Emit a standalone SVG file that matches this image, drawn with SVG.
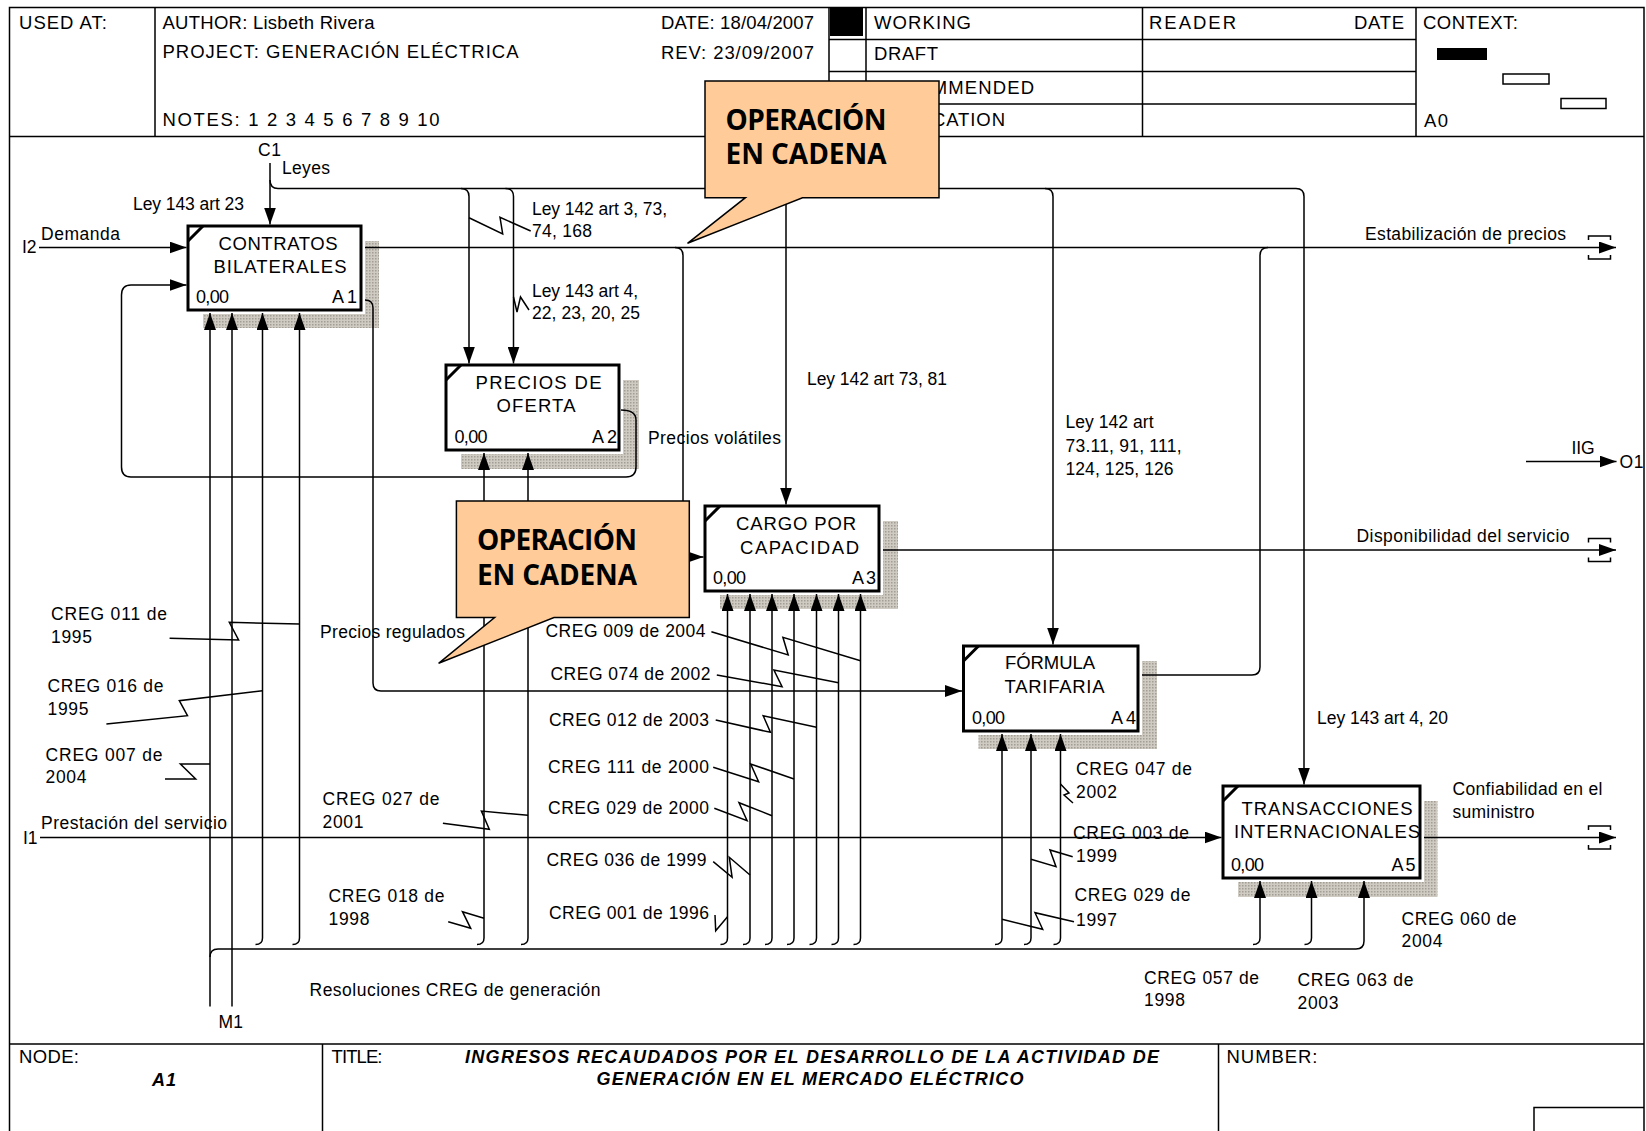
<svg xmlns="http://www.w3.org/2000/svg" width="1646" height="1131" viewBox="0 0 1646 1131">
<defs>
<style>
text{font-family:"Liberation Sans",Arial,sans-serif;fill:#000;dominant-baseline:central}
.h{font-size:18.5px}
.l{font-size:17.5px}
.bx{font-size:18.5px;text-anchor:middle}
.bn{font-size:18px}
.e{text-anchor:end}
.ft{font-size:18px;font-weight:bold;font-style:italic}
.co{font-family:"Open Sans","Noto Sans",sans-serif;font-size:28px;font-weight:bold;dominant-baseline:alphabetic}
.fr{fill:none;stroke:#000;stroke-width:1.5}
.c{fill:none;stroke:#000;stroke-width:1.5}
.a{marker-end:url(#ah)}
.box{fill:#fff;stroke:#000;stroke-width:3}
.mg{fill:#fff}
.dg{stroke:#000;stroke-width:3}
.sh{fill:url(#dots)}
.callout{fill:#FFCC99;stroke:#000;stroke-width:1.5}
</style>
<pattern id="dots" width="3" height="3" patternUnits="userSpaceOnUse"><rect width="3" height="3" fill="#cfcbc3"/><rect width="1.5" height="1.5" fill="#a29e96"/></pattern>
<marker id="ah" viewBox="0 0 17 12" refX="17" refY="6" markerWidth="17" markerHeight="12" markerUnits="userSpaceOnUse" orient="auto"><path d="M0,0L17,6L0,12z" fill="#000"/></marker>
</defs>
<rect width="1646" height="1131" fill="#fff"/>

<g id="frame">
<path class="fr" d="M9.5,1131V7.5H1644V1131"/>
<path class="fr" d="M9.5,136.5H1644M155,7.5V136.5M829,7.5V136.5M866,7.5V136.5M1142.5,7.5V136.5M1416,7.5V136.5M829,39.5H1416M829,71.5H1416M829,104H1416"/>
<path class="fr" d="M9.5,1044H1644M322.5,1044V1131M1218.5,1044V1131M1534,1131V1107.5H1644"/>
<rect x="830" y="8" width="33" height="28" fill="#000"/>
<rect x="1437" y="48" width="50" height="12" fill="#000"/>
<rect x="1503" y="74" width="46" height="10" fill="#fff" stroke="#000" stroke-width="1.5"/>
<rect x="1561" y="98.5" width="45" height="10" fill="#fff" stroke="#000" stroke-width="1.5"/>
<text class="h" x="19" y="22" textLength="88">USED AT:</text>
<text class="h" x="162.5" y="22" textLength="212">AUTHOR:  Lisbeth Rivera</text>
<text class="h" x="162.5" y="51.5" textLength="356">PROJECT:  GENERACIÓN ELÉCTRICA</text>
<text class="h" x="162.5" y="119" textLength="277">NOTES:  1  2  3  4  5  6  7  8  9  10</text>
<text class="h" x="661" y="22" textLength="153">DATE:  18/04/2007</text>
<text class="h" x="661" y="52" textLength="153">REV:   23/09/2007</text>
<text class="h" x="874" y="22" textLength="97">WORKING</text>
<text class="h" x="874" y="53" textLength="64">DRAFT</text>
<text class="h" x="874" y="87" textLength="160">RECOMMENDED</text>
<text class="h" x="874" y="119" textLength="131">PUBLICATION</text>
<text class="h" x="1149" y="22" textLength="87">READER</text>
<text class="h e" x="1404" y="22" textLength="50">DATE</text>
<text class="h" x="1423" y="22" textLength="95">CONTEXT:</text>
<text class="h" x="1424" y="120" textLength="24">A0</text>
<text class="h" x="19" y="1056.5" textLength="60">NODE:</text>
<text class="ft" x="152" y="1080" textLength="24">A1</text>
<text class="h" x="331.5" y="1056.5" textLength="51">TITLE:</text>
<text class="ft" x="812" y="1056.5" text-anchor="middle" textLength="694">INGRESOS RECAUDADOS POR EL DESARROLLO DE LA ACTIVIDAD  DE</text>
<text class="ft" x="810" y="1079" text-anchor="middle" textLength="427">GENERACIÓN EN EL MERCADO ELÉCTRICO</text>
<text class="h" x="1226.5" y="1056.5" textLength="91">NUMBER:</text>
</g>

<g id="shadows">
<rect class="sh" x="203" y="241" width="176" height="87"/>
<rect class="sh" x="461" y="380" width="178" height="89"/>
<rect class="sh" x="720" y="521" width="178" height="88"/>
<rect class="sh" x="978.5" y="661" width="178.5" height="88"/>
<rect class="sh" x="1238" y="801" width="199.5" height="96"/>
</g>

<g id="A1">
<rect class="mg" x="186.5" y="224.5" width="178.5" height="89.5"/>
<rect class="box" x="188" y="226" width="173" height="84"/>
<path class="dg" d="M188,241L203,226"/>
<text class="bx" x="278" y="243.5" textLength="119">CONTRATOS</text>
<text class="bx" x="280" y="266" textLength="133">BILATERALES</text>
<text class="bn" x="196" y="297" textLength="33">0,00</text>
<text class="bn e" x="357" y="297" textLength="25">A1</text>
</g>
<g id="A2">
<rect class="mg" x="444.5" y="363.5" width="178.5" height="90.5"/>
<rect class="box" x="446" y="365" width="173" height="85"/>
<path class="dg" d="M446,380L461,365"/>
<text class="bx" x="538.5" y="382" textLength="126">PRECIOS DE</text>
<text class="bx" x="536" y="405" textLength="79">OFERTA</text>
<text class="bn" x="454.5" y="437" textLength="33">0,00</text>
<text class="bn e" x="617" y="437" textLength="25">A2</text>
</g>
<g id="A3">
<rect class="mg" x="703.5" y="504.5" width="179.5" height="90.5"/>
<rect class="box" x="705" y="506" width="174" height="85"/>
<path class="dg" d="M705,521L720,506"/>
<text class="bx" x="796" y="523.5" textLength="120">CARGO POR</text>
<text class="bx" x="799.5" y="547" textLength="119">CAPACIDAD</text>
<text class="bn" x="713" y="578" textLength="33">0,00</text>
<text class="bn e" x="876" y="578" textLength="24">A3</text>
</g>
<g id="A4">
<rect class="mg" x="962" y="644.5" width="180" height="90.5"/>
<rect class="box" x="963.5" y="646" width="174.5" height="85"/>
<path class="dg" d="M963.5,661L978.5,646"/>
<text class="bx" x="1050" y="662" textLength="90">FÓRMULA</text>
<text class="bx" x="1054.5" y="686" textLength="100">TARIFARIA</text>
<text class="bn" x="972" y="718" textLength="33">0,00</text>
<text class="bn e" x="1136" y="718" textLength="25">A4</text>
</g>
<g id="A5">
<rect class="mg" x="1221.5" y="784.5" width="202.5" height="97.5"/>
<rect class="box" x="1223" y="786" width="197" height="92"/>
<path class="dg" d="M1223,801L1238,786"/>
<text class="bx" x="1327" y="808.5" textLength="171">TRANSACCIONES</text>
<text class="bx" x="1327" y="831" textLength="186">INTERNACIONALES</text>
<text class="bn" x="1231" y="865" textLength="33">0,00</text>
<text class="bn e" x="1415.5" y="865" textLength="24">A5</text>
</g>

<g id="connectors">
<path class="c a" d="M270,163V224.5"/>
<path class="c a" d="M270,180Q270,188.5 278,188.5H1296Q1304,188.5 1304,196.5V784.5"/>
<path class="c a" d="M461,188.5Q469,188.5 469,196.5V363.5"/>
<path class="c a" d="M505.5,188.5Q513.5,188.5 513.5,196.5V363.5"/>
<path class="c a" d="M778,188.5Q786,188.5 786,196.5V504.5"/>
<path class="c a" d="M1045,188.5Q1053,188.5 1053,196.5V644.5"/>
<path class="c a" d="M39,247.5H186.5"/>
<path class="c a" d="M621,410Q636,410 636,420V467Q636,477 626,477H131Q121.5,477 121.5,467V295Q121.5,285 131,285H186.5"/>
<path class="c a" d="M365,247.5H1616"/>
<path class="c a" d="M675,247.5Q683,247.5 683,255.5V549Q683,557 691,557H703.5"/>
<path class="c" d="M1142,675H1252Q1260,675 1260,667V255.5Q1260,247.5 1268,247.5"/>
<path class="c a" d="M365,300Q373,300 373,308V683Q373,691 381,691H962"/>
<path class="c a" d="M883,550H1616"/>
<path class="c a" d="M1424,837.5H1616"/>
<path class="c a" d="M40,837.5H1221.5"/>
<path class="c a" d="M1526,461.5H1616.5"/>
<path class="c" d="M1588.5,240V236H1610.5V240M1588.5,255V259H1610.5V255"/>
<path class="c" d="M1588.5,542.5V538.5H1610.5V542.5M1588.5,557.5V561.5H1610.5V557.5"/>
<path class="c" d="M1588.5,830V826H1610.5V830M1588.5,845V849H1610.5V845"/>
<path class="c a" d="M210,1006.5V313"/>
<path class="c a" d="M232,1006.5V313"/>
<path class="c a" d="M210,957Q210,949 218,949H1356Q1364,949 1364,941V881"/>
<path class="c a" d="M255.5,944.5Q262.5,944.5 262.5,938V313"/>
<path class="c a" d="M292.5,944.5Q299.5,944.5 299.5,938V313"/>
<path class="c a" d="M477,944.5Q484,944.5 484,938V453"/>
<path class="c a" d="M521,944.5Q528,944.5 528,938V453"/>
<path class="c a" d="M720.5,944.5Q727.5,944.5 727.5,938V594"/>
<path class="c a" d="M743,944.5Q750,944.5 750,938V594"/>
<path class="c a" d="M765,944.5Q772,944.5 772,938V594"/>
<path class="c a" d="M787,944.5Q794,944.5 794,938V594"/>
<path class="c a" d="M809.5,944.5Q816.5,944.5 816.5,938V594"/>
<path class="c a" d="M831.5,944.5Q838.5,944.5 838.5,938V594"/>
<path class="c a" d="M853.5,944.5Q860.5,944.5 860.5,938V594"/>
<path class="c a" d="M995,944.5Q1002,944.5 1002,938V734"/>
<path class="c a" d="M1024,944.5Q1031,944.5 1031,938V734"/>
<path class="c a" d="M1053.5,944.5Q1060.5,944.5 1060.5,938V734"/>
<path class="c a" d="M1253,944.5Q1260,944.5 1260,938V881"/>
<path class="c a" d="M1304.5,944.5Q1311.5,944.5 1311.5,938V881"/>
<polyline class="c" points="469,217.7 502.7,234 500,217.3 530.7,231"/>
<polyline class="c" points="513.5,297 517,312 520.5,297 529,310"/>
<polyline class="c" points="169.6,638.3 238.6,640 229.3,622.3 299.5,624"/>
<polyline class="c" points="106.4,724 187.5,715.7 179.3,700.7 262.5,690.7"/>
<polyline class="c" points="165,779 195.7,779 180.4,764 210,764"/>
<polyline class="c" points="442.9,823.3 489.3,829.3 481.4,811 528,815.3"/>
<polyline class="c" points="448.2,921.7 470.7,928.3 462.5,911.7 484,918.3"/>
<polyline class="c" points="711.4,631.7 788.2,655 782.9,637.3 860.5,660.7"/>
<polyline class="c" points="716.8,675 782.1,686.7 773.9,670 838.5,682.7"/>
<polyline class="c" points="715.7,720 770.4,732.3 763.2,715.7 816.5,727.3"/>
<polyline class="c" points="713.2,767.3 758.6,781.7 750.7,764 794,779"/>
<polyline class="c" points="714.3,808.3 747.1,820.7 739,802.7 772,815.7"/>
<polyline class="c" points="713.2,861.7 732.1,877.3 729.3,857.3 750,875"/>
<polyline class="c" points="715,915 715.7,930.7 727.5,916.7"/>
<polyline class="c" points="1060.5,784 1069,793 1064,795 1073,803"/>
<polyline class="c" points="1031,859.3 1056,866.7 1050,850 1072.7,856.7"/>
<polyline class="c" points="1002,919.3 1042.7,929.3 1035,912.7 1074,921.7"/>
</g>

<g id="labels">
<text class="l" x="258" y="150" textLength="23">C1</text>
<text class="l" x="282" y="168" textLength="48">Leyes</text>
<text class="l" x="133" y="204" textLength="111">Ley 143 art 23</text>
<text class="l" x="41" y="234" textLength="79">Demanda</text>
<text class="l" x="22" y="247">I2</text>
<text class="l" x="532" y="209" textLength="135">Ley 142 art 3, 73,</text>
<text class="l" x="532" y="231" textLength="60">74, 168</text>
<text class="l" x="532" y="291" textLength="106">Ley 143 art 4,</text>
<text class="l" x="532" y="313" textLength="108">22, 23, 20, 25</text>
<text class="l" x="1365" y="234" textLength="201">Estabilización de precios</text>
<text class="l" x="807" y="379" textLength="140">Ley 142 art 73, 81</text>
<text class="l" x="648" y="438" textLength="133">Precios volátiles</text>
<text class="l" x="1065.5" y="422" textLength="88">Ley 142 art</text>
<text class="l" x="1065.5" y="446" textLength="116">73.11, 91, 111,</text>
<text class="l" x="1065.5" y="469" textLength="108">124, 125, 126</text>
<text class="l" x="1571.5" y="448" textLength="23">IIG</text>
<text class="l" x="1619.5" y="462" textLength="24">O1</text>
<text class="l" x="1356.5" y="536" textLength="213">Disponibilidad del servicio</text>
<text class="l" x="51" y="614" textLength="116">CREG 011 de</text>
<text class="l" x="51" y="637" textLength="41">1995</text>
<text class="l" x="47.5" y="686" textLength="116">CREG 016 de</text>
<text class="l" x="47.5" y="709" textLength="41">1995</text>
<text class="l" x="45.5" y="755" textLength="117">CREG 007 de</text>
<text class="l" x="45.5" y="777" textLength="41">2004</text>
<text class="l" x="320" y="632" textLength="145">Precios regulados</text>
<text class="l" x="545.5" y="631" textLength="160">CREG 009 de 2004</text>
<text class="l" x="550.5" y="674" textLength="160">CREG 074 de 2002</text>
<text class="l" x="549" y="720" textLength="160">CREG 012 de 2003</text>
<text class="l" x="548" y="767" textLength="161">CREG 111 de 2000</text>
<text class="l" x="548" y="807.5" textLength="161">CREG 029 de 2000</text>
<text class="l" x="546.5" y="860" textLength="160">CREG 036 de 1999</text>
<text class="l" x="549" y="913" textLength="160">CREG 001 de 1996</text>
<text class="l" x="322.5" y="799" textLength="117">CREG 027 de</text>
<text class="l" x="322.5" y="822" textLength="41">2001</text>
<text class="l" x="328.5" y="896" textLength="116">CREG 018 de</text>
<text class="l" x="328.5" y="919" textLength="41">1998</text>
<text class="l" x="41" y="823" textLength="186">Prestación del servicio</text>
<text class="l" x="23" y="838">I1</text>
<text class="l" x="1076" y="769" textLength="116">CREG 047 de</text>
<text class="l" x="1076" y="792" textLength="41">2002</text>
<text class="l" x="1073" y="832.5" textLength="116">CREG 003 de</text>
<text class="l" x="1076" y="856" textLength="41">1999</text>
<text class="l" x="1074.5" y="895" textLength="116">CREG 029 de</text>
<text class="l" x="1076" y="920" textLength="41">1997</text>
<text class="l" x="1317" y="717.5" textLength="131">Ley 143 art 4, 20</text>
<text class="l" x="1452.5" y="789" textLength="150">Confiabilidad en el</text>
<text class="l" x="1452.5" y="811.5" textLength="82">suministro</text>
<text class="l" x="1401.5" y="919" textLength="115">CREG 060 de</text>
<text class="l" x="1401.5" y="941" textLength="41">2004</text>
<text class="l" x="1144" y="977.5" textLength="115">CREG 057 de</text>
<text class="l" x="1144" y="1000" textLength="41">1998</text>
<text class="l" x="1297.5" y="979.5" textLength="116">CREG 063 de</text>
<text class="l" x="1297.5" y="1003" textLength="41">2003</text>
<text class="l" x="309.5" y="990" textLength="291">Resoluciones CREG de generación</text>
<text class="l" x="218.5" y="1022" textLength="24.5">M1</text>
</g>

<g id="callout1">
<polygon class="callout" points="705,81 939,81 939,197.7 802.5,197.7 687.5,243.3 745.4,197.7 705,197.7"/>
<text class="co" x="725.5" y="130" textLength="161">OPERACIÓN</text>
<text class="co" x="725.5" y="164.3" textLength="161">EN CADENA</text>
</g>
<g id="callout2">
<polygon class="callout" points="456.4,501 689.3,501 689.3,617.5 554,617.5 438.6,663.3 494.6,617.5 456.4,617.5"/>
<text class="co" x="477" y="550" textLength="160">OPERACIÓN</text>
<text class="co" x="477" y="585" textLength="160">EN CADENA</text>
</g>
</svg>
